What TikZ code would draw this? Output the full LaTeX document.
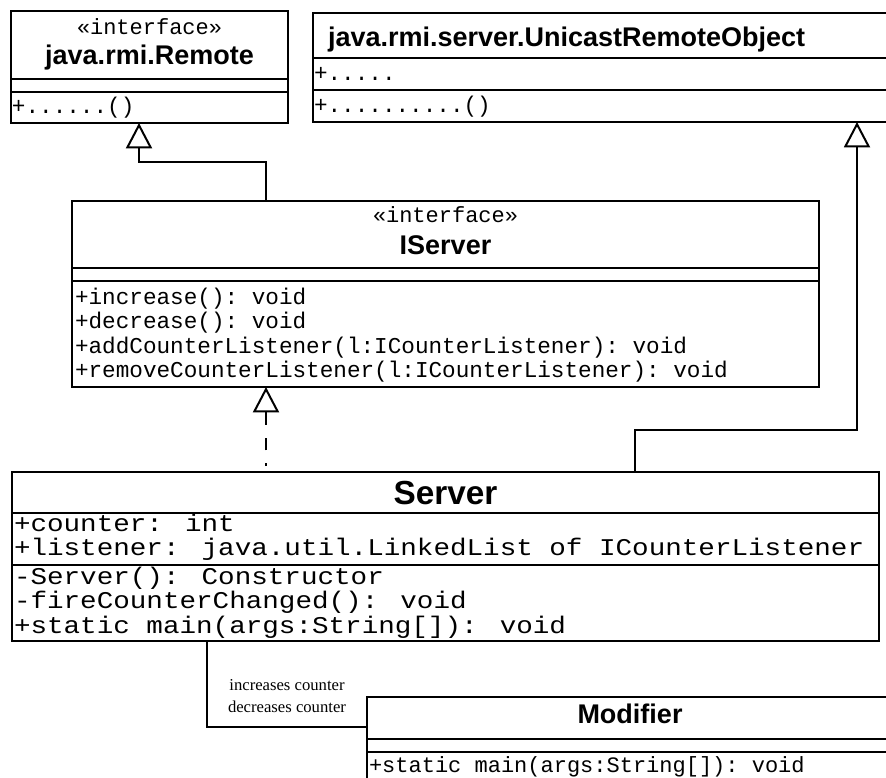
\documentclass[tikz,border=0pt]{standalone}
\usepackage{fontspec}
\setmainfont{Liberation Serif}
\setsansfont{Liberation Sans}
\setmonofont{Liberation Mono}
\newfontfamily\widemono[FakeStretch=1.15]{Liberation Mono}
\usetikzlibrary{positioning,fit,arrows.meta,calc}

\begin{document}
\begin{tikzpicture}[
    x=0.75pt, y=-0.75pt,
    line width=1.5pt,
    box/.style={draw, inner sep=0pt, outer sep=0pt},
    ttl/.style={inner sep=0pt, anchor=base, font=\sffamily\bfseries\fontsize{20.25pt}{24pt}\selectfont},
    sttl/.style={ttl, font=\sffamily\bfseries\fontsize{25pt}{30pt}\selectfont},
    ster/.style={inner sep=0pt, anchor=base, font=\ttfamily\fontsize{16.5pt}{19pt}\selectfont},
    mbr/.style={inner sep=0pt, anchor=base west, font=\ttfamily\fontsize{17pt}{19pt}\selectfont},
    smbr/.style={inner sep=0pt, anchor=base west, font=\widemono\fontsize{18pt}{21pt}\selectfont},
    gen/.style={-{Triangle[open, length=19pt, width=19.5pt]}},
    real/.style={gen, dash pattern=on 9.5pt off 9.5pt, dash phase=7.2pt, shorten <=4.5pt},
    lbl/.style={inner sep=0pt, align=center, font=\fontsize{12.5pt}{16.5pt}\selectfont},
]
    \useasboundingbox (0,0) rectangle (886,778);
    \clip (0,0) rectangle (886,778);
    \fill[white] (0,0) rectangle (886,778);

    % java.rmi.Remote
    \node[box, fit={(11,11) (288,123)}] (remote) {};
    \draw (11,79) -- (288,79) (11,92) -- (288,92);
    \node[ster] (remote-st) at (149.5,35) {«interface»};
    \node[ttl] (remote-tt) at (149.5,64) {java.rmi.Remote};
    \node[mbr] (remote-m) at (11,113) {+......()};

    % java.rmi.server.UnicastRemoteObject
    \node[box, fit={(313,13) (900,122)}] (unicast) {};
    \draw (313,58) -- (900,58) (313,90) -- (900,90);
    \node[ttl, anchor=base west] (unicast-tt) at (327,46) {java.rmi.server.UnicastRemoteObject};
    \node[mbr] (unicast-a) at (313,80) {+.....};
    \node[mbr] (unicast-m) at (313,112) {+..........()};

    % IServer
    \node[box, fit={(72,201) (819,387)}] (iserver) {};
    \draw (72,268) -- (819,268) (72,281) -- (819,281);
    \node[ster] (iserver-st) at (445.5,222) {«interface»};
    \node[ttl] (iserver-tt) at (445.5,254) {IServer};
    \node[mbr] (iserver-m1) at (74,304) {+increase(): void};
    \node[mbr] (iserver-m2) at (74,328.5) {+decrease(): void};
    \node[mbr] (iserver-m3) at (74,353) {+addCounterListener(l:ICounterListener): void};
    \node[mbr] (iserver-m4) at (74,377.5) {+removeCounterListener(l:ICounterListener): void};

    % Server
    \node[box, fit={(12,472) (879,641)}] (server) {};
    \draw (12,513) -- (879,513) (12,565) -- (879,565);
    \node[sttl] (server-tt) at (445.5,504) {Server};
    \node[smbr] (server-a1) at (13,531) {+counter: int};
    \node[smbr] (server-a2) at (13,555) {+listener: java.util.LinkedList of ICounterListener};
    \node[smbr] (server-m1) at (13,584) {-Server(): Constructor};
    \node[smbr] (server-m2) at (13,608.5) {-fireCounterChanged(): void};
    \node[smbr] (server-m3) at (13,633) {+static main(args:String[]): void};

    % Modifier
    \node[box, fit={(367,697) (893,790)}] (modifier) {};
    \draw (367,739) -- (893,739) (367,752) -- (893,752);
    \node[ttl] (modifier-tt) at (630,723) {Modifier};
    \node[mbr, font=\ttfamily\fontsize{16.5pt}{19pt}\selectfont] (modifier-m) at (368,772) {+static main(args:String[]): void};

    % connectors
    \draw[gen] ($(iserver.north west)+(194,0)$) |- ($(remote.south west)+(128,39)$) -- ($(remote.south west)+(128,0)$);
    \draw[gen] ($(server.north west)+(623,0)$) |- ($(unicast.south west)+(544,308)$) -- ($(unicast.south west)+(544,0)$);
    \draw[real] ($(server.north west)+(254,0)$) -- ($(iserver.south west)+(194,0)$);
    \draw ($(server.south west)+(195,0)$) |- ($(modifier.north west)+(0,30)$)
        node[lbl, pos=0.75, above=9.75pt] (assoc-lbl) {increases counter\\decreases counter};
\end{tikzpicture}
\end{document}
